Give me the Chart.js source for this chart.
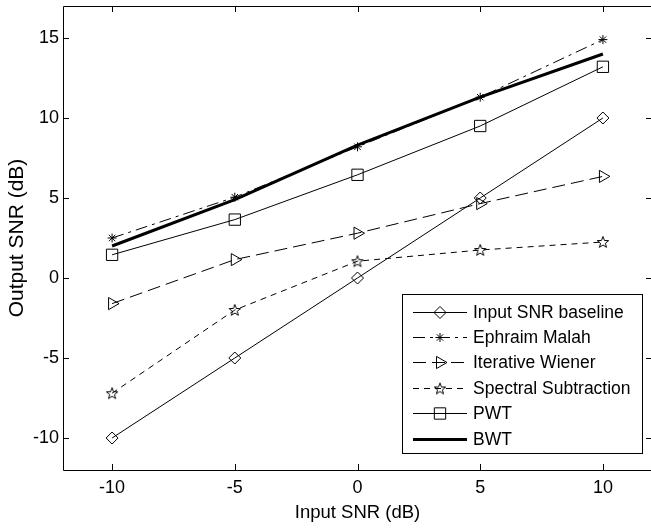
<!DOCTYPE html>
<html>
<head>
<meta charset="utf-8">
<script src="https://cdn.jsdelivr.net/npm/chart.js@4/dist/chart.umd.min.js"></script>
<style>
  html, body { margin: 0; padding: 0; overflow: hidden; background: #fff; }
  #c { position: absolute; left: 0; top: 0; }
</style>
</head>
<body>
<canvas id="c" width="653" height="529" style="width:653px;height:529px"></canvas>
<script>
// ---- data ----
const inputSNR = [-10, -5, 0, 5, 10];
const inputBaseline = [-10, -5, 0, 5, 10];
const ephraimMalah = [2.5, 5.05, 8.2, 11.3, 14.9];
const iterativeWiener = [-1.6, 1.15, 2.8, 4.65, 6.35];
const spectralSubtraction = [-7.2, -2.0, 1.05, 1.75, 2.25];
const pwt = [1.45, 3.65, 6.45, 9.5, 13.2];
const bwt = [2.0, 4.9, 8.3, 11.3, 14.0];
const seriesNames = ['Input SNR baseline', 'Ephraim Malah', 'Iterative Wiener', 'Spectral Subtraction', 'PWT', 'BWT'];
const xTicks = [-10, -5, 0, 5, 10];
const yTicks = [-10, -5, 0, 5, 10, 15];

const FONT = '"Liberation Sans", Arial, Helvetica, sans-serif';

function makePentagram(r) {
  const s = Math.ceil(2 * r + 4);
  const c = document.createElement('canvas');
  c.width = s; c.height = s;
  const g = c.getContext('2d');
  const cx = s / 2, cy = s / 2 + 0.5;
  g.beginPath();
  for (let i = 0; i < 10; i++) {
    const a = -Math.PI / 2 + i * Math.PI / 5;
    const rr = (i % 2) ? r * 0.42 : r;
    const px = cx + rr * Math.cos(a), py = cy + rr * Math.sin(a);
    if (i === 0) g.moveTo(px, py); else g.lineTo(px, py);
  }
  g.closePath();
  g.strokeStyle = '#000';
  g.lineWidth = 1;
  g.stroke();
  return c;
}
const pentagram = makePentagram(6);

const pts = (ys) => inputSNR.map((x, i) => ({ x: x, y: ys[i] }));

const base = {
  borderColor: '#000',
  backgroundColor: 'rgba(0,0,0,0)',
  pointBorderColor: '#000',
  pointBackgroundColor: 'rgba(0,0,0,0)',
  borderWidth: 1,
  pointBorderWidth: 1,
  tension: 0,
  fill: false
};

const datasets = [
  Object.assign({}, base, { label: seriesNames[0], data: pts(inputBaseline), pointStyle: 'rectRot', pointRadius: 6 }),
  Object.assign({}, base, { label: seriesNames[1], data: pts(ephraimMalah), pointStyle: 'star', pointRadius: 4.5, borderDash: [12, 5, 3, 5] }),
  Object.assign({}, base, { label: seriesNames[2], data: pts(iterativeWiener), pointStyle: 'triangle', pointRotation: 90, pointRadius: 7, borderDash: [13, 6] }),
  Object.assign({}, base, { label: seriesNames[3], data: pts(spectralSubtraction), pointStyle: pentagram, pointRadius: 6, borderDash: [6, 5] }),
  Object.assign({}, base, { label: seriesNames[4], data: pts(pwt), pointStyle: 'rect', pointRadius: 8 }),
  Object.assign({}, base, { label: seriesNames[5], data: pts(bwt), pointRadius: 0, borderWidth: 3 })
];

// inward ticks + full box
const boxPlugin = {
  id: 'boxTicks',
  afterDatasetsDraw(chart) {
    const { ctx, chartArea: a, scales } = chart;
    const L = 6;
    ctx.save();
    ctx.strokeStyle = '#000';
    ctx.lineWidth = 1;
    ctx.beginPath();
    scales.x.ticks.forEach(t => {
      const px = Math.round(scales.x.getPixelForValue(t.value)) + 0.5;
      ctx.moveTo(px, a.bottom); ctx.lineTo(px, a.bottom - L);
      ctx.moveTo(px, a.top); ctx.lineTo(px, a.top + L);
    });
    scales.y.ticks.forEach(t => {
      const py = Math.round(scales.y.getPixelForValue(t.value)) + 0.5;
      ctx.moveTo(a.left, py); ctx.lineTo(a.left + L, py);
      ctx.moveTo(a.right, py); ctx.lineTo(a.right - L, py);
    });
    ctx.stroke();
    ctx.beginPath();
    ctx.rect(Math.round(a.left) + 0.5, Math.round(a.top) + 0.5, Math.round(a.right - a.left), Math.round(a.bottom - a.top));
    ctx.stroke();
    ctx.restore();
  }
};

// MATLAB-style legend
const legendPlugin = {
  id: 'matLegend',
  afterDraw(chart) {
    const { ctx } = chart;
    const bx = 402.5, by = 294.5, bw = 240, bh = 159;
    const rowY0 = 311.5, rowH = 25.4;
    const lx0 = 413, lx1 = 467, mx = 440, tx = 473;
    ctx.save();
    ctx.fillStyle = '#fff';
    ctx.fillRect(bx, by, bw, bh);
    ctx.strokeStyle = '#000';
    ctx.lineWidth = 1;
    ctx.strokeRect(bx, by, bw, bh);
    chart.data.datasets.forEach((ds, i) => {
      const y = Math.round(rowY0 + i * rowH) + 0.5;
      ctx.save();
      ctx.strokeStyle = '#000';
      ctx.lineWidth = ds.borderWidth;
      ctx.setLineDash(ds.borderDash || []);
      ctx.beginPath();
      ctx.moveTo(lx0, y); ctx.lineTo(lx1, y);
      ctx.stroke();
      ctx.restore();
      if (ds.pointRadius > 0) {
        ctx.save();
        ctx.strokeStyle = '#000';
        ctx.fillStyle = 'rgba(0,0,0,0)';
        ctx.lineWidth = 1;
        Chart.helpers.drawPoint(ctx, {
          pointStyle: ds.pointStyle,
          radius: ds.pointRadius,
          rotation: ds.pointRotation || 0,
          borderWidth: 1
        }, mx, y);
        ctx.restore();
      }
      ctx.fillStyle = '#000';
      ctx.font = '17.5px ' + FONT;
      ctx.textBaseline = 'middle';
      ctx.textAlign = 'left';
      ctx.fillText(ds.label, tx, y + 1);
    });
    ctx.restore();
  }
};

function zeroPad(s) { s.paddingTop = 0; s.paddingBottom = 0; s.paddingLeft = 0; s.paddingRight = 0; }

new Chart(document.getElementById('c'), {
  type: 'line',
  data: { datasets: datasets },
  options: {
    responsive: false,
    animation: false,
    devicePixelRatio: 1,
    layout: { autoPadding: false, padding: { top: 6, right: 1, left: 0, bottom: 0 } },
    plugins: { legend: { display: false }, tooltip: { enabled: false } },
    scales: {
      x: {
        type: 'linear',
        min: -12, max: 12,
        afterBuildTicks(s) { s.ticks = xTicks.map(v => ({ value: v })); },
        afterFit(s) { s.height = 59; zeroPad(s); },
        grid: { display: false, drawTicks: false },
        border: { display: false },
        ticks: { color: '#000', font: { family: FONT, size: 18 }, padding: 7, maxRotation: 0, autoSkip: false },
        title: { display: true, text: 'Input SNR (dB)', color: '#000', font: { family: FONT, size: 18.5 }, padding: { top: 0, bottom: 5 } }
      },
      y: {
        type: 'linear',
        min: -12, max: 17,
        afterBuildTicks(s) { s.ticks = yTicks.map(v => ({ value: v })); },
        afterFit(s) { s.width = 63; zeroPad(s); },
        grid: { display: false, drawTicks: false },
        border: { display: false },
        ticks: { color: '#000', font: { family: FONT, size: 18 }, padding: 4, autoSkip: false },
        title: { display: true, text: 'Output SNR (dB)', color: '#000', font: { family: FONT, size: 21 }, padding: { top: 5, bottom: 0 } }
      }
    }
  },
  plugins: [boxPlugin, legendPlugin]
});
</script>
</body>
</html>
